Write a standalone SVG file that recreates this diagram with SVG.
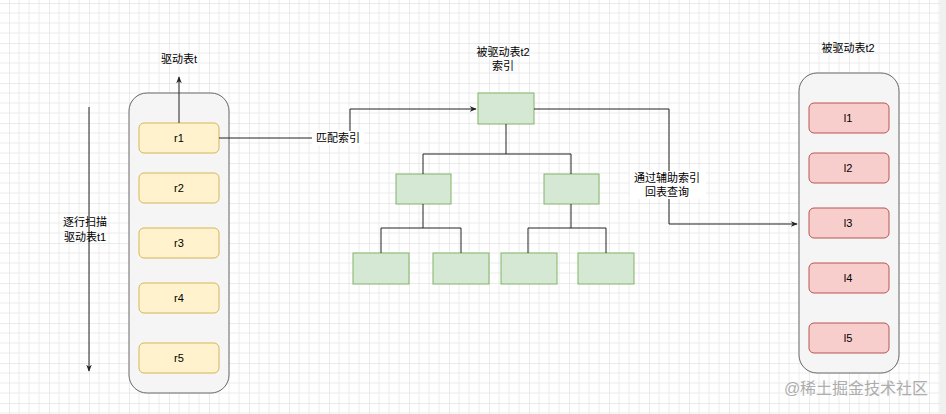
<svg xmlns="http://www.w3.org/2000/svg" width="946" height="414" viewBox="0 0 946 414">
<defs>
<pattern id="g" width="40" height="40" patternUnits="userSpaceOnUse" x="9" y="3">
<path d="M10 0V40M20 0V40M30 0V40M0 10H40M0 20H40M0 30H40" stroke="#ececec" stroke-width="1" fill="none"/>
<path d="M0 0V40M0 0H40" stroke="#d8d8d8" stroke-width="1" fill="none"/>
</pattern>
<marker id="a" viewBox="0 0 10 10" refX="9" refY="5" markerWidth="7" markerHeight="7" orient="auto"><path d="M0 1L10 5L0 9L3 5Z" fill="#222"/></marker>
</defs>
<style>
text{font-family:"Liberation Sans","Noto Sans CJK SC",sans-serif;font-size:11px;text-anchor:middle;fill:#000}
.c{fill:#f5f5f5;stroke:#666;stroke-width:1}
.y{fill:#fff2cc;stroke:#d6b656}
.r{fill:#f8cecc;stroke:#b85450}
.gr{fill:#d5e8d4;stroke:#82b366}
.l{fill:none;stroke:#222;stroke-width:1}
</style>
<rect width="946" height="414" fill="#fff"/>
<rect width="940" height="414" fill="url(#g)"/>
<rect x="940" width="6" height="414" fill="#f0f0f0"/>
<g id="t1"><rect class="c" x="129" y="93" width="100" height="300" rx="18"/></g>
<g id="r1"><rect class="y" x="139" y="123" width="80" height="30" rx="5"/><text x="179" y="142">r1</text></g>
<g id="r2"><rect class="y" x="139" y="173" width="80" height="30" rx="5"/><text x="179" y="192">r2</text></g>
<g id="r3"><rect class="y" x="139" y="228" width="80" height="30" rx="5"/><text x="179" y="247">r3</text></g>
<g id="r4"><rect class="y" x="139" y="283" width="80" height="30" rx="5"/><text x="179" y="302">r4</text></g>
<g id="r5"><rect class="y" x="139" y="343" width="80" height="30" rx="5"/><text x="179" y="362">r5</text></g>
<g id="root"><rect class="gr" x="478" y="93" width="56" height="31"/></g>
<g id="m1"><rect class="gr" x="396" y="174" width="55" height="30"/></g>
<g id="m2"><rect class="gr" x="544" y="174" width="55" height="30"/></g>
<g id="b1"><rect class="gr" x="353" y="253" width="56" height="31"/></g>
<g id="b2"><rect class="gr" x="433" y="253" width="56" height="31"/></g>
<g id="b3"><rect class="gr" x="501" y="253" width="56" height="31"/></g>
<g id="b4"><rect class="gr" x="578" y="253" width="56" height="31"/></g>
<g id="t2"><rect class="c" x="799" y="73" width="100" height="300" rx="18"/></g>
<g id="l1"><rect class="r" x="809" y="103" width="80" height="30" rx="5"/><text x="848" y="122">l1</text></g>
<g id="l2"><rect class="r" x="809" y="153" width="80" height="30" rx="5"/><text x="848" y="172">l2</text></g>
<g id="l3"><rect class="r" x="809" y="208" width="80" height="30" rx="5"/><text x="848" y="227">l3</text></g>
<g id="l4"><rect class="r" x="809" y="263" width="80" height="30" rx="5"/><text x="848" y="282">l4</text></g>
<g id="l5"><rect class="r" x="809" y="323" width="80" height="30" rx="5"/><text x="848" y="342">l5</text></g>
<g id="connectors">
<path class="l" d="M179 123V77" marker-end="url(#a)"/>
<path class="l" d="M89 107V371" marker-end="url(#a)"/>
<path class="l" d="M219 138H350V109H476" marker-end="url(#a)"/>
<path class="l" d="M534 109H669V224H797" marker-end="url(#a)"/>
<path class="l" d="M506 124V154M423 154H571M423 154V174M571 154V174"/>
<path class="l" d="M423 204V228M381 228H461M381 228V253M461 228V253"/>
<path class="l" d="M571 204V228M528 228H606M528 228V253M606 228V253"/>
</g>
<g id="labels">
<text x="179" y="63">驱动表t</text>
<text x="85" y="226">逐行扫描</text>
<text x="85" y="241">驱动表t1</text>
<rect x="312" y="131" width="52" height="14" fill="#fff"/>
<text x="338" y="142">匹配索引</text>
<text x="503" y="56">被驱动表t2</text>
<text x="503" y="70">索引</text>
<rect x="630" y="171" width="76" height="28" fill="#fff"/>
<text x="667" y="182">通过辅助索引</text>
<text x="667" y="196">回表查询</text>
<text x="848" y="52">被驱动表t2</text>
</g>
<text x="856" y="394" style="font-size:16px;fill:#999;opacity:0.8">@稀土掘金技术社区</text>
</svg>
